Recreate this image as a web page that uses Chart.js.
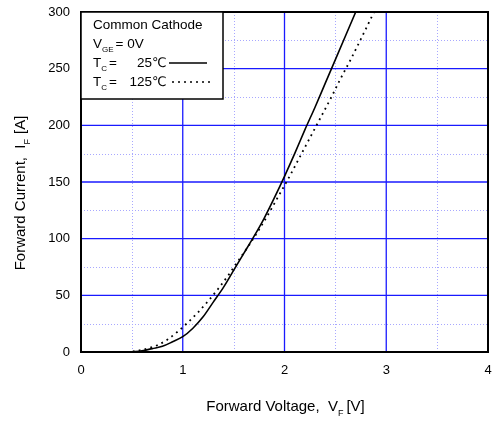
<!DOCTYPE html>
<html><head><meta charset="utf-8">
<script src="https://cdn.jsdelivr.net/npm/chart.js@4.4.1/dist/chart.umd.min.js"></script>
<style>html,body{margin:0;padding:0;background:#fff;}#wrap{width:492px;height:425px;}</style>
</head><body><div id="wrap"><canvas id="c" width="492" height="425"></canvas></div>
<script>
const vf25 = [0.5,0.6,0.7,0.8,0.9,1.0,1.1,1.2,1.3,1.4,1.5,1.6,1.7,1.8,1.9,2.0,2.1,2.2,2.3,2.4,2.5,2.6,2.7];
const if25 = [0,1,3,5,9,13.5,21,31,44,57,72,87,102,118,136,155,175,196,216,237,258,279,300];
const vf125 = [0.45,0.55,0.65,0.75,0.85,0.95,1.05,1.15,1.25,1.35,1.45,1.55,1.65,1.75,1.85,1.95,2.05,2.15,2.25,2.35,2.45,2.55,2.65,2.75,2.88];
const if125 = [0,1,3,6,11,18,26,35,45,56,68,81,94,108,123,139,155,172,189,206,223,241,258,276,300];
const xTicks = [0,1,2,3,4];
const yTicks = [0,50,100,150,200,250,300];
const legendLines = ["Common Cathode","V_GE = 0V","T_C =  25℃","T_C = 125℃"];

const FONT = '"Liberation Sans", Arial, sans-serif';

function richWidth(ctx, parts, size){
  let w=0;
  for(const p of parts){ ctx.font = (p.sub? Math.round(size*0.6):size)+'px '+FONT; w+=ctx.measureText(p.t).width + (p.gap||0); }
  return w;
}
function drawRich(ctx, parts, x, y, size){
  for(const p of parts){
    ctx.font = (p.sub? Math.round(size*0.6):size)+'px '+FONT;
    ctx.fillText(p.t, x, y + (p.sub? size*0.3:0));
    x += ctx.measureText(p.t).width + (p.gap||0);
  }
  return x;
}

const gridPlugin = {
  id:'grid',
  beforeDatasetsDraw(chart){
    const ctx=chart.ctx, xs=chart.scales.x, ys=chart.scales.y, a=chart.chartArea;
    ctx.save();
    ctx.strokeStyle='#a8a8ff'; ctx.lineWidth=1; ctx.setLineDash([1,2]);
    for(let v=0.5; v<4; v+=1){ const px=Math.round(xs.getPixelForValue(v))+0.5; ctx.beginPath(); ctx.moveTo(px,a.top); ctx.lineTo(px,a.bottom); ctx.stroke(); }
    for(let v=25; v<300; v+=50){ const py=Math.round(ys.getPixelForValue(v))+0.5; ctx.beginPath(); ctx.moveTo(a.left,py); ctx.lineTo(a.right,py); ctx.stroke(); }
    ctx.setLineDash([]); ctx.strokeStyle='#1a1aff'; ctx.lineWidth=1.3;
    for(const v of xTicks){ if(v===0||v===4) continue; const px=xs.getPixelForValue(v); ctx.beginPath(); ctx.moveTo(px,a.top); ctx.lineTo(px,a.bottom); ctx.stroke(); }
    for(const v of yTicks){ if(v===0||v===300) continue; const py=ys.getPixelForValue(v); ctx.beginPath(); ctx.moveTo(a.left,py); ctx.lineTo(a.right,py); ctx.stroke(); }
    ctx.restore();
  },
  afterDatasetsDraw(chart){
    const ctx=chart.ctx, a=chart.chartArea;
    ctx.save();
    ctx.strokeStyle='#000'; ctx.lineWidth=2;
    ctx.strokeRect(a.left, a.top, a.right-a.left, a.bottom-a.top);
    const bx=a.left, by=a.top, bw=142, bh=87;
    ctx.fillStyle='#fff'; ctx.fillRect(bx,by,bw,bh);
    ctx.lineWidth=1.5; ctx.strokeRect(bx,by,bw,bh);
    ctx.fillStyle='#000'; ctx.textBaseline='alphabetic'; ctx.textAlign='left';
    const s=13.5, tx=bx+12;
    ctx.font=s+'px '+FONT; ctx.fillText(legendLines[0], tx, by+17);
    drawRich(ctx,[{t:'V'},{t:'GE',sub:true,gap:2},{t:'= 0V'}], tx, by+36, s);
    drawRich(ctx,[{t:'T'},{t:'C',sub:true,gap:2},{t:'='}], tx, by+55, s);
    ctx.font=s+'px '+FONT; ctx.textAlign='right'; ctx.fillText('25', bx+71, by+55);
    ctx.fillText('125', bx+71, by+74); ctx.textAlign='left';
    drawRich(ctx,[{t:'T'},{t:'C',sub:true,gap:2},{t:'='}], tx, by+74, s);
    ctx.font='13px "DejaVu Sans", sans-serif';
    ctx.fillText('℃', bx+71, by+55); ctx.fillText('℃', bx+71, by+74);
    ctx.strokeStyle='#000'; ctx.lineWidth=1.5;
    ctx.beginPath(); ctx.moveTo(bx+88,by+51); ctx.lineTo(bx+126,by+51); ctx.stroke();
    ctx.setLineDash([2,4]);
    ctx.beginPath(); ctx.moveTo(bx+91,by+70); ctx.lineTo(bx+130,by+70); ctx.stroke();
    ctx.setLineDash([]);
    const ts=15;
    const xp=[{t:'Forward Voltage,  V'},{t:'F',sub:true,gap:3},{t:'[V]'}];
    const xw=richWidth(ctx,xp,ts);
    ctx.fillStyle='#000';
    drawRich(ctx,xp,(a.left+a.right)/2 - xw/2 + 1, 411, ts);
    const yp=[{t:'Forward Current,  I'},{t:'F',sub:true,gap:5},{t:'[A]'}];
    const yw=richWidth(ctx,yp,ts);
    ctx.translate(25,193); ctx.rotate(-Math.PI/2);
    drawRich(ctx,yp,-yw/2,0,ts);
    ctx.restore();
  }
};

new Chart(document.getElementById('c'),{
  type:'line',
  data:{datasets:[
    {label:'Tc=25', data:vf25.map((v,i)=>({x:v,y:if25[i]})), borderColor:'#000', borderWidth:1.6, pointRadius:0, cubicInterpolationMode:'monotone', fill:false},
    {label:'Tc=125', data:vf125.map((v,i)=>({x:v,y:if125[i]})), borderColor:'#000', borderWidth:1.8, borderDash:[1.8,4.2], pointRadius:0, cubicInterpolationMode:'monotone', fill:false}
  ]},
  options:{
    responsive:false, animation:false,
    layout:{padding:{left:0,top:12,right:4,bottom:0}},
    plugins:{legend:{display:false},tooltip:{enabled:false}},
    scales:{
      x:{type:'linear',min:0,max:4,
        afterFit(s){s.height=73; s.paddingLeft=0; s.paddingRight=0;},
        afterBuildTicks(s){s.ticks=xTicks.map(v=>({value:v}));},
        grid:{display:false,drawTicks:false}, border:{display:false},
        ticks:{padding:11,color:'#000',font:{family:FONT,size:13},maxRotation:0,callback:v=>String(v)}},
      y:{type:'linear',min:0,max:300,
        afterFit(s){s.width=81; s.paddingTop=0; s.paddingBottom=0;},
        afterBuildTicks(s){s.ticks=yTicks.map(v=>({value:v}));},
        grid:{display:false,drawTicks:false}, border:{display:false},
        ticks:{padding:11,color:'#000',font:{family:FONT,size:13},callback:v=>String(v)}}
    }
  },
  plugins:[gridPlugin]
});
</script></body></html>
